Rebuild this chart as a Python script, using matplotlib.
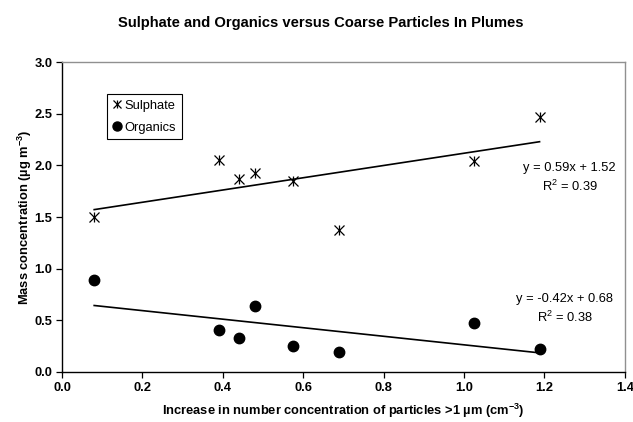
"""
Sulphate and organics vs coarse particles in plumes
Scatter with linear trend lines
"""

import numpy as np
import matplotlib
matplotlib.use('Agg')
import matplotlib.pyplot as plt
from matplotlib.lines import Line2D

# increase in number concentration of particles >1 um (cm-3)
coarse = [0.08, 0.39, 0.44, 0.48, 0.575, 0.69, 1.024, 1.188]
sulphate = [1.50, 2.05, 1.87, 1.93, 1.85, 1.37, 2.04, 2.47]
organics = [0.89, 0.41, 0.33, 0.64, 0.25, 0.19, 0.47, 0.22]

x_ticks = [0.0, 0.2, 0.4, 0.6, 0.8, 1.0, 1.2, 1.4]
y_ticks = [0.0, 0.5, 1.0, 1.5, 2.0, 2.5, 3.0]

plt.rcParams['font.family'] = ['Liberation Sans', 'DejaVu Sans']
plt.rcParams['mathtext.fontset'] = 'custom'
plt.rcParams['mathtext.rm'] = 'Liberation Sans'
plt.rcParams['mathtext.it'] = 'Liberation Sans:italic'
plt.rcParams['mathtext.bf'] = 'Liberation Sans:bold'
plt.rcParams['mathtext.default'] = 'regular'

fig = plt.figure(figsize=(6.33, 4.22), dpi=100)
ax = fig.add_axes([0.098, 0.1185, 0.889, 0.7345])

# sulphate marker = x with a vertical bar (excel star)
ax.plot(coarse, sulphate, linestyle='None', marker='x', markersize=7,
        markeredgewidth=0.9, color='black')
ax.plot(coarse, sulphate, linestyle='None', marker='|', markersize=7,
        markeredgewidth=0.9, color='black')
ax.plot(coarse, organics, linestyle='None', marker='o', markersize=7.5,
        color='black')

# linear trend lines
xs = np.array([min(coarse), max(coarse)])
for vals in (sulphate, organics):
    m, b = np.polyfit(coarse, vals, 1)
    ax.plot(xs, m * xs + b, color='black', linewidth=1.2)

txt = dict(fontsize=9.3, ha='center', va='center')
ax.text(1.263, 1.975, 'y = 0.59x + 1.52', **txt)
ax.text(1.263, 1.80, 'R$^2$ = 0.39', **txt)
ax.text(1.251, 0.71, 'y = -0.42x + 0.68', **txt)
ax.text(1.251, 0.53, 'R$^2$ = 0.38', **txt)

# legend handles
h_sul = (Line2D([], [], linestyle='None', marker='x', markersize=6,
                markeredgewidth=0.9, color='black'),
         Line2D([], [], linestyle='None', marker='|', markersize=6,
                markeredgewidth=0.9, color='black'))
h_org = Line2D([], [], linestyle='None', marker='o', markersize=6.5,
               color='black')
leg = ax.legend([h_sul, h_org], ['Sulphate', 'Organics'],
                loc='upper left', bbox_to_anchor=(0.08, 0.897),
                fontsize=9.3, handlelength=0.7, handletextpad=0.2,
                borderpad=0.45, labelspacing=0.75, borderaxespad=0,
                fancybox=False, framealpha=1, edgecolor='black')
leg.get_frame().set_linewidth(0.8)

ax.set_xlim(0, 1.4)
ax.set_ylim(0, 3.0)
ax.set_xticks(x_ticks)
ax.set_yticks(y_ticks)
ax.set_xticklabels([f'{t:.1f}' for t in x_ticks], fontweight='bold', fontsize=9.3)
ax.set_yticklabels([f'{t:.1f}' for t in y_ticks], fontweight='bold', fontsize=9.3)
ax.tick_params(direction='out', length=4, width=0.9)
ax.tick_params(axis='x', pad=3)
ax.tick_params(axis='y', pad=3)

for s in ('top', 'right'):
    ax.spines[s].set_color('#909090')
    ax.spines[s].set_linewidth(1.0)
for s in ('left', 'bottom'):
    ax.spines[s].set_color('black')
    ax.spines[s].set_linewidth(1.0)

ax.set_xlabel('Increase in number concentration of particles >1 \u00b5m (cm$^{\\mathbf{-3}}$)',
              fontweight='bold', fontsize=9.3, labelpad=6)
ax.set_ylabel('Mass concentration (\u00b5g m$^{\\mathbf{-3}}$)',
              fontweight='bold', fontsize=9.3, labelpad=0)
fig.suptitle('Sulphate and Organics versus Coarse Particles In Plumes',
             fontweight='bold', fontsize=10.6, x=0.507, y=0.945, va='center')

fig.savefig('out.png', dpi=100)
